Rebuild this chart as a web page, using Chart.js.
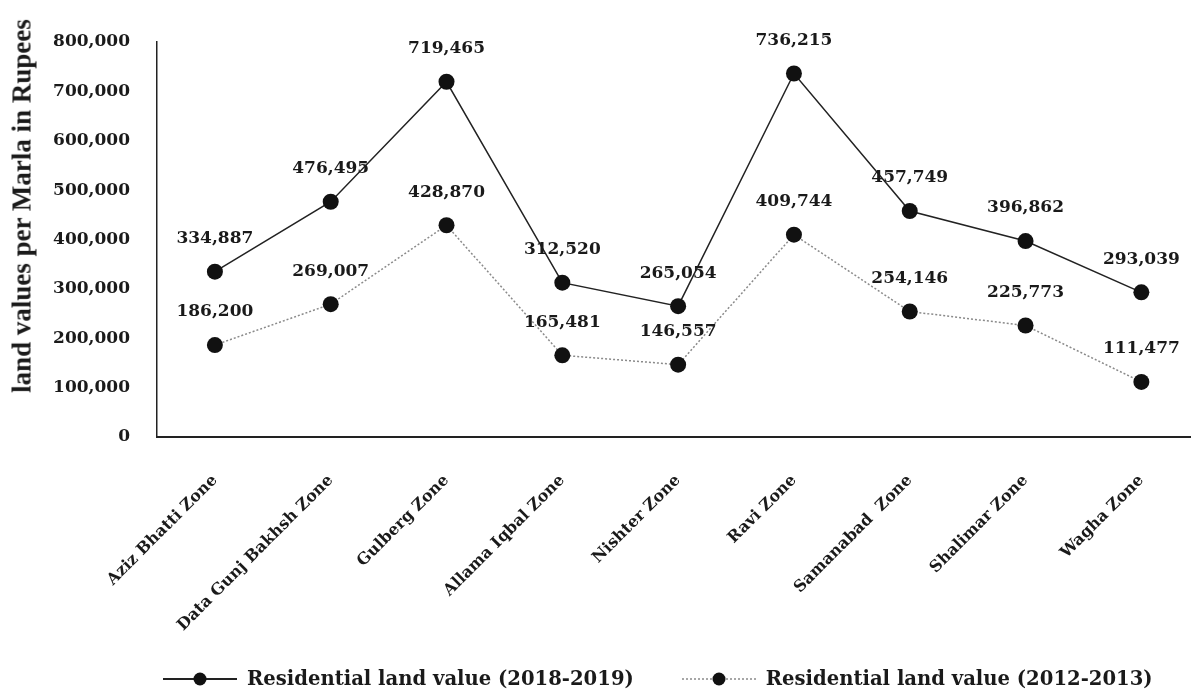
<!DOCTYPE html>
<html>
<head>
<meta charset="utf-8">
<script src="https://cdn.jsdelivr.net/npm/chart.js@4.4.0/dist/chart.umd.min.js"></script>
<style>
  body { margin: 0; background: #fff; }
  #wrap { position: relative; width: 1198px; height: 695px; }
  #yTitle {
    position: absolute; left: 22px; top: 206px;
    transform: translate(-50%, -50%) rotate(-90deg);
    white-space: nowrap;
    font: bold 27px "Liberation Serif", serif;
    color: #1a1a1a;
  }
  #legend {
    position: absolute; left: 163px; top: 667px;
    display: flex; align-items: center;
    font: bold 19.6px "DejaVu Serif", serif;
    color: #1a1a1a;
  }
  .item { display: flex; align-items: center; }
  .item span { margin-left: 10px; }
</style>
</head>
<body>
<div id="wrap">
  <canvas id="chart" width="1198" height="695"></canvas>
  <div id="yTitle">land values per Marla in Rupees</div>
  <div id="legend"></div>
</div>
<script>
// Zonas y valores (rupias por marla)
const zones = ['Aziz Bhatti Zone', 'Data Gunj Bakhsh Zone', 'Gulberg Zone', 'Allama Iqbal Zone',
  'Nishter Zone', 'Ravi Zone', 'Samanabad  Zone', 'Shalimar Zone', 'Wagha Zone'];
const value2018 = [334887, 476495, 719465, 312520, 265054, 736215, 457749, 396862, 293039];
const value2012 = [186200, 269007, 428870, 165481, 146557, 409744, 254146, 225773, 111477];
const seriesNames = ['Residential  land value (2018-2019)', 'Residential  land value (2012-2013)'];
const yTicks = [0, 100000, 200000, 300000, 400000, 500000, 600000, 700000, 800000];

const fmt = v => v.toLocaleString('en-US');
const serif = '"DejaVu Serif", serif';

// etiquetas de valor encima de cada punto
const valueLabels = {
  id: 'valueLabels',
  afterDatasetsDraw(chart) {
    const ctx = chart.ctx;
    ctx.save();
    ctx.font = 'bold 17px ' + serif;
    ctx.fillStyle = '#1a1a1a';
    ctx.textAlign = 'center';
    ctx.textBaseline = 'middle';
    chart.data.datasets.forEach((ds, i) => {
      chart.getDatasetMeta(i).data.forEach((pt, j) => {
        ctx.fillText(fmt(ds.data[j].y), pt.x, pt.y - 33);
      });
    });
    ctx.restore();
  }
};

const ctx = document.getElementById('chart').getContext('2d');
const chart = new Chart(ctx, {
  type: 'line',
  data: {
    datasets: [{
      label: seriesNames[0],
      data: value2018.map((v, i) => ({ x: i, y: v })),
      borderColor: '#222',
      borderWidth: 1.5,
      pointRadius: 8,
      pointBackgroundColor: '#111',
      pointBorderColor: '#111',
      pointBorderWidth: 0,
      tension: 0
    }, {
      label: seriesNames[1],
      data: value2012.map((v, i) => ({ x: i, y: v })),
      borderColor: '#8a8a8a',
      borderWidth: 1.5,
      borderDash: [2, 2],
      pointRadius: 8,
      pointBackgroundColor: '#111',
      pointBorderColor: '#111',
      pointBorderWidth: 0,
      tension: 0
    }]
  },
  options: {
    responsive: false,
    animation: false,
    layout: { padding: { top: 42, left: 2, right: 4, bottom: 0 } },
    plugins: {
      legend: { display: false },
      tooltip: { enabled: false }
    },
    scales: {
      x: {
        type: 'linear',
        min: -0.5,
        max: 8.42,
        grid: { display: false },
        border: { display: true, color: '#222', width: 2 },
        afterBuildTicks: axis => { axis.ticks = zones.map((_, i) => ({ value: i })); },
        afterFit: axis => { axis.height = 258; },
        ticks: {
          autoSkip: false,
          minRotation: 45,
          maxRotation: 45,
          padding: 26,
          color: '#1a1a1a',
          font: { family: serif, size: 16, weight: 'bold' },
          callback: v => zones[v]
        }
      },
      y: {
        min: 0,
        max: 800000,
        grid: { display: false },
        border: { display: true, color: '#222', width: 1.5 },
        afterBuildTicks: axis => { axis.ticks = yTicks.map(v => ({ value: v })); },
        afterFit: axis => { axis.width = 155; },
        ticks: {
          padding: 19,
          color: '#1a1a1a',
          font: { family: serif, size: 17, weight: 'bold' },
          callback: v => fmt(v)
        }
      }
    }
  },
  plugins: [valueLabels]
});

// leyenda en HTML con línea y punto
function marker(dashed) {
  const c = document.createElement('canvas');
  c.width = 74; c.height = 20;
  const g = c.getContext('2d');
  g.strokeStyle = dashed ? '#8a8a8a' : '#222';
  g.lineWidth = dashed ? 1.5 : 2;
  if (dashed) g.setLineDash([2, 2]);
  g.beginPath(); g.moveTo(0, 10); g.lineTo(74, 10); g.stroke();
  g.fillStyle = '#111';
  g.beginPath(); g.arc(37, 10, 6.5, 0, Math.PI * 2); g.fill();
  return c;
}
const legend = document.getElementById('legend');
chart.data.datasets.forEach((ds, i) => {
  const item = document.createElement('div');
  item.className = 'item';
  if (i > 0) item.style.marginLeft = '48px';
  item.appendChild(marker(i === 1));
  const s = document.createElement('span');
  s.textContent = ds.label;
  item.appendChild(s);
  legend.appendChild(item);
});
</script>
</body>
</html>
